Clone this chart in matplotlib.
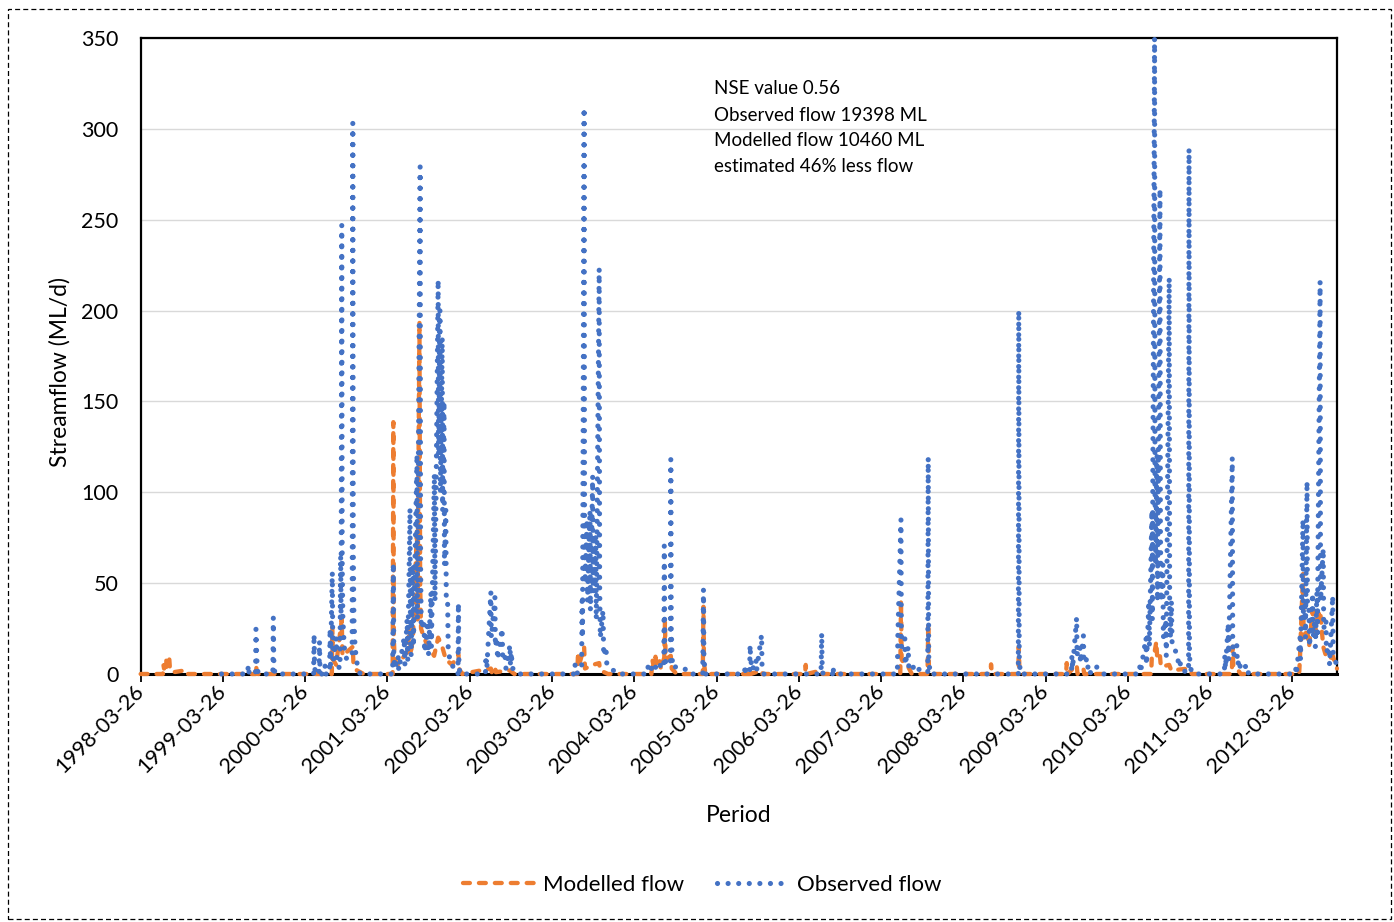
import pandas as pd
import matplotlib
matplotlib.use("Agg")
import matplotlib.pyplot as plt
import matplotlib.dates as mdates
from matplotlib.patches import Rectangle

# ---------------- data (daily flow, ML/d) ----------------
# observed flow: vertices of the hydrograph, zero between events
observed_points = [
    ("1999-03-20", 0),
    ("1999-07-14", 0), ("1999-07-17", 5), ("1999-07-21", 0),
    ("1999-08-18", 0), ("1999-08-20", 24.6), ("1999-08-22", 15), ("1999-08-25", 5), ("1999-08-30", 0),
    ("1999-11-03", 0), ("1999-11-05", 31), ("1999-11-07", 8), ("1999-11-12", 0),
    ("2000-05-02", 0), ("2000-05-04", 21.8), ("2000-05-06", 5), ("2000-05-10", 0),
    ("2000-05-26", 0), ("2000-05-28", 18), ("2000-05-30", 4), ("2000-06-05", 0),
    ("2000-06-20", 0), ("2000-06-22", 5), ("2000-06-26", 0),
    ("2000-07-12", 0), ("2000-07-14", 25), ("2000-07-16", 5), ("2000-07-24", 56),
    ("2000-07-26", 15), ("2000-07-29", 8), ("2000-08-10", 20), ("2000-08-14", 5),
    ("2000-08-27", 3), ("2000-08-30", 65), ("2000-09-01", 30), ("2000-09-04", 247),
    ("2000-09-06", 60), ("2000-09-09", 30), ("2000-09-13", 20), ("2000-09-18", 10),
    ("2000-09-28", 8), ("2000-10-20", 10), ("2000-10-23", 303), ("2000-10-25", 70),
    ("2000-10-28", 30), ("2000-11-02", 15), ("2000-11-08", 8), ("2000-11-15", 3), ("2000-11-25", 0),
    ("2001-04-18", 0), ("2001-04-21", 61), ("2001-04-23", 10), ("2001-04-28", 3),
    ("2001-05-12", 10), ("2001-05-15", 2), ("2001-06-08", 20), ("2001-06-11", 5),
    ("2001-06-21", 30), ("2001-06-24", 8), ("2001-07-04", 91), ("2001-07-06", 20),
    ("2001-07-09", 10), ("2001-07-17", 60), ("2001-07-19", 15), ("2001-08-04", 121),
    ("2001-08-06", 30), ("2001-08-18", 279), ("2001-08-20", 60), ("2001-08-23", 25),
    ("2001-09-04", 30), ("2001-09-07", 12), ("2001-09-22", 29), ("2001-09-24", 10),
    ("2001-10-05", 45), ("2001-10-07", 15), ("2001-10-20", 110), ("2001-10-23", 40),
    ("2001-11-06", 217), ("2001-11-08", 120), ("2001-11-14", 200), ("2001-11-16", 100),
    ("2001-11-24", 185), ("2001-11-26", 90), ("2001-12-02", 150), ("2001-12-04", 60),
    ("2001-12-10", 90), ("2001-12-12", 40), ("2001-12-18", 40), ("2001-12-21", 10),
    ("2002-01-07", 8), ("2002-01-12", 2),
    ("2002-02-02", 0), ("2002-02-04", 39), ("2002-02-06", 8), ("2002-02-10", 0),
    ("2002-06-04", 0), ("2002-06-06", 10), ("2002-06-10", 3), ("2002-06-28", 45),
    ("2002-06-30", 20), ("2002-07-04", 25), ("2002-07-16", 42), ("2002-07-18", 15),
    ("2002-07-24", 20), ("2002-07-28", 8), ("2002-08-17", 25), ("2002-08-20", 8),
    ("2002-08-30", 10), ("2002-09-03", 3), ("2002-09-21", 16), ("2002-09-23", 5),
    ("2002-09-27", 12), ("2002-10-01", 3), ("2002-10-20", 3), ("2002-11-05", 0),
    ("2003-07-05", 0), ("2003-07-07", 5), ("2003-07-10", 0),
    ("2003-08-05", 2), ("2003-08-07", 40), ("2003-08-09", 20), ("2003-08-16", 311.6),
    ("2003-08-18", 90), ("2003-08-20", 50), ("2003-08-29", 85), ("2003-08-31", 40),
    ("2003-09-11", 90), ("2003-09-13", 35), ("2003-09-23", 109), ("2003-09-25", 45),
    ("2003-10-07", 75), ("2003-10-09", 30), ("2003-10-22", 223), ("2003-10-24", 50),
    ("2003-10-27", 20), ("2003-11-08", 35), ("2003-11-11", 10), ("2003-11-21", 15),
    ("2003-11-25", 5), ("2003-12-15", 3), ("2004-01-10", 0),
    ("2004-05-24", 0), ("2004-05-26", 4), ("2004-05-30", 1), ("2004-06-26", 6),
    ("2004-06-30", 2), ("2004-07-16", 5), ("2004-08-04", 3), ("2004-08-06", 70.6),
    ("2004-08-08", 15), ("2004-08-12", 6), ("2004-09-02", 5), ("2004-09-04", 118),
    ("2004-09-06", 25), ("2004-09-10", 8), ("2004-09-16", 3), ("2004-09-26", 4),
    ("2004-10-20", 3), ("2004-11-05", 3), ("2004-11-20", 0),
    ("2005-01-24", 0), ("2005-01-27", 46.6), ("2005-01-29", 10), ("2005-02-03", 0),
    ("2005-07-28", 0), ("2005-07-31", 5), ("2005-08-03", 1), ("2005-08-20", 0),
    ("2005-08-22", 16), ("2005-08-24", 10), ("2005-08-27", 6), ("2005-09-01", 2),
    ("2005-09-17", 8), ("2005-09-20", 2), ("2005-10-12", 21.5), ("2005-10-14", 5), ("2005-10-20", 0),
    ("2006-07-03", 0), ("2006-07-06", 22.4), ("2006-07-08", 5), ("2006-07-12", 0),
    ("2006-08-23", 0), ("2006-08-25", 4), ("2006-08-29", 0),
    ("2007-06-07", 0), ("2007-06-09", 20), ("2007-06-23", 85), ("2007-06-25", 15),
    ("2007-07-10", 20), ("2007-07-12", 5), ("2007-07-25", 15), ("2007-07-28", 3),
    ("2007-08-15", 5), ("2007-08-20", 1), ("2007-09-18", 3), ("2007-10-20", 1),
    ("2007-10-22", 119), ("2007-10-24", 10), ("2007-10-30", 0),
    ("2008-11-25", 0), ("2008-11-27", 200), ("2008-11-29", 10), ("2008-12-04", 0),
    ("2009-07-19", 0), ("2009-07-21", 10), ("2009-07-24", 3), ("2009-08-11", 31),
    ("2009-08-13", 10), ("2009-08-17", 15), ("2009-08-26", 15), ("2009-08-28", 6),
    ("2009-09-10", 21), ("2009-09-12", 8), ("2009-09-22", 10), ("2009-09-25", 3),
    ("2009-10-08", 5), ("2009-10-12", 0), ("2009-11-10", 4), ("2009-12-10", 0),
    ("2010-05-17", 0), ("2010-05-19", 5), ("2010-05-23", 2), ("2010-06-15", 20),
    ("2010-06-17", 5), ("2010-06-28", 40), ("2010-06-30", 15), ("2010-07-11", 90),
    ("2010-07-13", 30), ("2010-07-23", 350), ("2010-07-25", 100), ("2010-07-27", 60),
    ("2010-08-03", 120), ("2010-08-05", 40), ("2010-08-16", 267), ("2010-08-18", 80),
    ("2010-08-21", 40), ("2010-08-29", 60), ("2010-08-31", 20), ("2010-09-11", 30),
    ("2010-09-13", 10), ("2010-09-26", 218), ("2010-09-28", 40), ("2010-10-01", 20),
    ("2010-10-06", 40), ("2010-10-09", 15), ("2010-11-03", 11), ("2010-11-06", 4),
    ("2010-11-14", 6), ("2010-11-17", 2), ("2010-12-21", 1), ("2010-12-23", 289),
    ("2010-12-25", 10), ("2010-12-30", 3), ("2011-01-10", 0),
    ("2011-05-29", 0), ("2011-05-31", 10), ("2011-06-03", 3), ("2011-06-15", 28),
    ("2011-06-17", 8), ("2011-07-03", 119), ("2011-07-05", 20), ("2011-07-08", 10),
    ("2011-07-23", 16), ("2011-07-26", 5), ("2011-08-05", 8), ("2011-08-08", 2),
    ("2011-09-09", 5), ("2011-09-13", 0),
    ("2012-04-09", 0), ("2012-04-11", 5), ("2012-04-14", 2), ("2012-04-29", 20),
    ("2012-05-01", 8), ("2012-05-12", 85), ("2012-05-14", 30), ("2012-05-21", 40),
    ("2012-05-23", 20), ("2012-05-30", 106), ("2012-06-01", 35), ("2012-06-08", 35),
    ("2012-06-10", 15), ("2012-06-24", 44.5), ("2012-06-26", 20), ("2012-07-04", 30),
    ("2012-07-06", 15), ("2012-07-13", 45), ("2012-07-15", 20), ("2012-07-27", 216),
    ("2012-07-29", 40), ("2012-08-10", 69), ("2012-08-12", 25), ("2012-08-22", 30),
    ("2012-08-24", 12), ("2012-09-05", 15), ("2012-09-07", 5), ("2012-09-21", 43),
    ("2012-09-23", 10), ("2012-10-01", 8), ("2012-10-08", 5),
]

# modelled flow
modelled_points = [
    ("1998-03-26", 0),
    ("1998-07-03", 0), ("1998-07-05", 5), ("1998-07-08", 3), ("1998-07-17", 8.6),
    ("1998-07-20", 4), ("1998-07-31", 8.6), ("1998-08-03", 3), ("1998-08-10", 3),
    ("1998-08-20", 1), ("1998-10-09", 2), ("1998-10-15", 0),
    ("1999-08-18", 0), ("1999-08-20", 5), ("1999-08-24", 1), ("1999-08-30", 0),
    ("2000-07-22", 0), ("2000-07-24", 26), ("2000-07-27", 8), ("2000-08-10", 5),
    ("2000-09-04", 30), ("2000-09-07", 10), ("2000-10-23", 15), ("2000-10-26", 5),
    ("2000-11-10", 2), ("2000-12-10", 0),
    ("2001-04-18", 0), ("2001-04-21", 138.6), ("2001-04-23", 20), ("2001-04-27", 8),
    ("2001-05-10", 5), ("2001-06-21", 12), ("2001-07-04", 25), ("2001-07-06", 10),
    ("2001-07-17", 20), ("2001-08-04", 80), ("2001-08-06", 30), ("2001-08-15", 193.5),
    ("2001-08-18", 50), ("2001-08-22", 25), ("2001-09-04", 20), ("2001-09-22", 15),
    ("2001-10-19", 10), ("2001-11-06", 20), ("2001-11-24", 15), ("2001-12-10", 8),
    ("2002-01-07", 5), ("2002-02-04", 11), ("2002-02-07", 3), ("2002-02-20", 0),
    ("2002-06-28", 3), ("2002-07-02", 1), ("2002-07-16", 4), ("2002-07-20", 1),
    ("2002-09-21", 2), ("2002-10-10", 0),
    ("2003-07-17", 0), ("2003-07-20", 12), ("2003-07-23", 4), ("2003-08-16", 15),
    ("2003-08-20", 3), ("2003-09-23", 5), ("2003-10-22", 6), ("2003-10-26", 2), ("2003-11-30", 0),
    ("2004-06-10", 0), ("2004-06-14", 8), ("2004-06-20", 4), ("2004-06-28", 9.5),
    ("2004-07-04", 4), ("2004-07-16", 7), ("2004-07-22", 3), ("2004-08-06", 9),
    ("2004-08-09", 29), ("2004-08-12", 8), ("2004-09-04", 10), ("2004-09-08", 3), ("2004-09-30", 0),
    ("2005-01-24", 0), ("2005-01-27", 37), ("2005-01-29", 6), ("2005-02-05", 0),
    ("2005-08-20", 0), ("2005-08-22", 3), ("2005-08-26", 0), ("2005-10-12", 2), ("2005-10-16", 0),
    ("2006-04-23", 0), ("2006-04-26", 5), ("2006-04-30", 0), ("2006-07-06", 2), ("2006-07-10", 0),
    ("2007-06-20", 0), ("2007-06-23", 40.7), ("2007-06-26", 8), ("2007-07-10", 5),
    ("2007-07-25", 4), ("2007-08-10", 0), ("2007-10-19", 0), ("2007-10-22", 28),
    ("2007-10-25", 4), ("2007-11-05", 0),
    ("2008-07-24", 0), ("2008-07-27", 5.3), ("2008-07-31", 0),
    ("2008-11-25", 0), ("2008-11-27", 15), ("2008-11-30", 3), ("2008-12-10", 0),
    ("2009-06-25", 0), ("2009-06-28", 6), ("2009-07-02", 0), ("2009-08-11", 5),
    ("2009-08-15", 0), ("2009-09-10", 3), ("2009-09-14", 0),
    ("2010-07-08", 0), ("2010-07-11", 10), ("2010-07-23", 12), ("2010-07-31", 17.8),
    ("2010-08-04", 8), ("2010-08-16", 10), ("2010-08-20", 4), ("2010-09-26", 5),
    ("2010-10-05", 2), ("2010-12-23", 3), ("2011-01-05", 0),
    ("2011-07-01", 0), ("2011-07-04", 15), ("2011-07-08", 4), ("2011-07-23", 3), ("2011-08-10", 0),
    ("2012-04-25", 0), ("2012-04-29", 10), ("2012-05-12", 55), ("2012-05-15", 20),
    ("2012-05-30", 25), ("2012-06-08", 15), ("2012-06-24", 35), ("2012-07-04", 20),
    ("2012-07-13", 30), ("2012-07-27", 35), ("2012-08-10", 15), ("2012-08-22", 10),
    ("2012-09-05", 8), ("2012-09-21", 10), ("2012-10-10", 3),
]

y_ticks = [0, 50, 100, 150, 200, 250, 300, 350]
note_lines = ["NSE value 0.56", "Observed flow 19398 ML",
              "Modelled flow 10460 ML", "estimated 46% less flow"]

obs_dates = pd.to_datetime([d for d, v in observed_points])
obs_flow = [v for d, v in observed_points]
mod_dates = pd.to_datetime([d for d, v in modelled_points])
mod_flow = [v for d, v in modelled_points]

# ---------------- figure ----------------
plt.rcParams['font.family'] = ['Lato', 'DejaVu Sans']
fig = plt.figure(figsize=(13.94, 9.22), dpi=100)
ax = fig.add_axes([0.1009, 0.269, 0.8582, 0.6898])

orange = '#ED7D31'
blue = '#4472C4'

ax.plot(mod_dates, mod_flow, color=orange, lw=3.1, linestyle=(0, (1.6, 2.1)),
        dash_capstyle='round', label='Modelled flow', zorder=3, clip_on=False)
ax.plot(obs_dates, obs_flow, color=blue, lw=3.7, linestyle=(0, (0.01, 2.05)),
        dash_capstyle='round', label='Observed flow', zorder=4, clip_on=False)

ax.set_xlim(pd.Timestamp("1998-03-26"), pd.Timestamp("2012-10-10"))
ax.set_ylim(0, 350)
ax.set_yticks(y_ticks)
ax.yaxis.grid(True, color='#D9D9D9', lw=1)
ax.set_axisbelow(True)

ax.xaxis.set_major_locator(mdates.YearLocator(base=1, month=3, day=26))
ax.xaxis.set_major_formatter(mdates.DateFormatter('%Y-%m-%d'))
ax.tick_params(axis='x', direction='out', length=6, width=1.3, color='black',
               labelsize=15.5, pad=4)
ax.tick_params(axis='y', length=0, labelsize=15.5, pad=16)
for lab in ax.get_xticklabels():
    lab.set_rotation(45)
    lab.set_ha('right')
    lab.set_va('center')
    lab.set_rotation_mode('anchor')

for side in ['left', 'right', 'top']:
    ax.spines[side].set_linewidth(1.6)
ax.spines['bottom'].set_linewidth(2.2)

ax.set_xlabel('Period', fontsize=16.5)
ax.xaxis.set_label_coords(0.5, -0.222)
ax.xaxis.label.set_va('center')
ax.set_ylabel('Streamflow (ML/d)', fontsize=16.5)
ax.yaxis.set_label_coords(-0.0674, 0.475)
ax.yaxis.label.set_va('center')

# summary note
note_y = [0.9198, 0.8789, 0.8381, 0.7972]
for txt, yy in zip(note_lines, note_y):
    ax.text(0.4793, yy, txt, transform=ax.transAxes, fontsize=13.5,
            ha='left', va='center')

fig.legend(loc='center', bbox_to_anchor=(0.5036, 0.040), ncol=2, frameon=False,
           fontsize=16, handlelength=3.3, handletextpad=0.3, columnspacing=1.5)

# dashed chart-area border
fig.patches.append(Rectangle((0.0057, 0.0033), 0.9921, 0.987, transform=fig.transFigure,
                             fill=False, edgecolor='black', lw=0.9,
                             linestyle=(0, (4, 2.5))))

fig.savefig('out.png', dpi=100)
